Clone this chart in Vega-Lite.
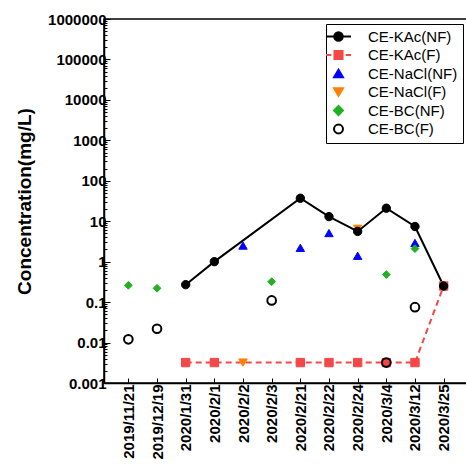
{
  "$schema": "https://vega.github.io/schema/vega-lite/v6.json",
  "width": 364,
  "height": 364,
  "autosize": "none",
  "padding": {"left": 104, "top": 19, "right": 0, "bottom": 91},
  "config": {
    "font": "Liberation Sans",
    "view": {"stroke": "black", "strokeWidth": 1.5},
    "legend": {
      "title": null,
      "orient": "top-right",
      "offset": 5,
      "padding": 5,
      "strokeColor": "black",
      "fillColor": "white",
      "labelFontSize": 15,
      "labelColor": "black",
      "labelFont": "Liberation Sans",
      "symbolSize": 80,
      "symbolStrokeWidth": 2,
      "labelOffset": 22,
      "rowPadding": 1.5
    }
  },
  "data": {
    "values": [
      {"d": "2020/1/31", "s": "CE-KAc(F)", "v": 0.0032},
      {"d": "2020/2/1", "s": "CE-KAc(F)", "v": 0.0032},
      {"d": "2020/2/21", "s": "CE-KAc(F)", "v": 0.0032},
      {"d": "2020/2/22", "s": "CE-KAc(F)", "v": 0.0032},
      {"d": "2020/2/24", "s": "CE-KAc(F)", "v": 0.0032},
      {"d": "2020/3/4", "s": "CE-KAc(F)", "v": 0.0032},
      {"d": "2020/3/12", "s": "CE-KAc(F)", "v": 0.0032},
      {"d": "2020/3/25", "s": "CE-KAc(F)", "v": 0.25},
      {"d": "2020/2/2", "s": "CE-NaCl(NF)", "v": 2.5},
      {"d": "2020/2/21", "s": "CE-NaCl(NF)", "v": 2.2},
      {"d": "2020/2/22", "s": "CE-NaCl(NF)", "v": 5.1},
      {"d": "2020/2/24", "s": "CE-NaCl(NF)", "v": 1.4},
      {"d": "2020/3/12", "s": "CE-NaCl(NF)", "v": 2.9},
      {"d": "2020/2/2", "s": "CE-NaCl(F)", "v": 0.0032},
      {"d": "2020/2/24", "s": "CE-NaCl(F)", "v": 6.5},
      {"d": "2020/3/12", "s": "CE-BC(NF)", "v": 2.1},
      {"d": "2019/11/21", "s": "CE-BC(NF)", "v": 0.26},
      {"d": "2019/12/19", "s": "CE-BC(NF)", "v": 0.22},
      {"d": "2020/2/3", "s": "CE-BC(NF)", "v": 0.32},
      {"d": "2020/3/4", "s": "CE-BC(NF)", "v": 0.48},
      {"d": "2019/11/21", "s": "CE-BC(F)", "v": 0.012},
      {"d": "2019/12/19", "s": "CE-BC(F)", "v": 0.022},
      {"d": "2020/2/3", "s": "CE-BC(F)", "v": 0.11},
      {"d": "2020/3/4", "s": "CE-BC(F)", "v": 0.0032},
      {"d": "2020/3/12", "s": "CE-BC(F)", "v": 0.075},
      {"d": "2020/1/31", "s": "CE-KAc(NF)", "v": 0.27},
      {"d": "2020/2/1", "s": "CE-KAc(NF)", "v": 1.0},
      {"d": "2020/2/21", "s": "CE-KAc(NF)", "v": 37},
      {"d": "2020/2/22", "s": "CE-KAc(NF)", "v": 13},
      {"d": "2020/2/24", "s": "CE-KAc(NF)", "v": 5.6},
      {"d": "2020/3/4", "s": "CE-KAc(NF)", "v": 21},
      {"d": "2020/3/12", "s": "CE-KAc(NF)", "v": 7.4},
      {"d": "2020/3/25", "s": "CE-KAc(NF)", "v": 0.25}
    ]
  },
  "encoding": {
    "x": {
      "field": "d",
      "type": "ordinal",
      "sort": null,
      "scale": {
        "type": "point",
        "padding": 0.85,
        "domain": ["2019/11/21", "2019/12/19", "2020/1/31", "2020/2/1", "2020/2/2", "2020/2/3", "2020/2/21", "2020/2/22", "2020/2/24", "2020/3/4", "2020/3/12", "2020/3/25"]
      },
      "axis": {
        "title": null,
        "labelAngle": -90,
        "labelFontSize": 15,
        "labelFontWeight": "bold",
        "labelColor": "black",
        "tickSize": -5,
        "tickColor": "black",
        "tickWidth": 1,
        "domainColor": "black",
        "domainWidth": 1.5,
        "labelPadding": 6,
        "grid": false
      }
    },
    "y": {
      "field": "v",
      "type": "quantitative",
      "scale": {"type": "log", "domain": [0.001, 1000000], "nice": false},
      "axis": {
        "title": "Concentration(mg/L)",
        "titleFontSize": 19,
        "titleFontWeight": "bold",
        "titleColor": "black",
        "titlePadding": 13,
        "values": [0.001,0.002,0.003,0.004,0.005,0.006,0.007,0.008,0.009,0.01,0.02,0.03,0.04,0.05,0.06,0.07,0.08,0.09,0.1,0.2,0.3,0.4,0.5,0.6,0.7,0.8,0.9,1,2,3,4,5,6,7,8,9,10,20,30,40,50,60,70,80,90,100,200,300,400,500,600,700,800,900,1000,2000,3000,4000,5000,6000,7000,8000,9000,10000,20000,30000,40000,50000,60000,70000,80000,90000,100000,200000,300000,400000,500000,600000,700000,800000,900000,1000000],
        "format": "~f",
        "labelExpr": "abs(log(datum.value)/LN10 - round(log(datum.value)/LN10)) < 0.000001 ? datum.label : ''",
        "labelOverlap": false,
        "labelFontSize": 15,
        "labelFontWeight": "bold",
        "labelColor": "black",
        "labelPadding": 4,
        "tickSize": {"condition": {"test": "abs(log(datum.value)/LN10 - round(log(datum.value)/LN10)) < 0.000001", "value": -6}, "value": -3},
        "tickColor": "black",
        "domainColor": "black",
        "domainWidth": 1.5,
        "grid": false
      }
    }
  },
  "layer": [
    {
      "transform": [{"filter": "datum.s === 'CE-KAc(NF)'"}],
      "mark": {"type": "line", "color": "black", "strokeWidth": 2}
    },
    {
      "transform": [{"filter": "datum.s === 'CE-KAc(F)'"}],
      "mark": {"type": "line", "color": "#f44848", "strokeWidth": 2, "strokeDash": [6, 4]}
    },
    {
      "transform": [{"filter": "datum.s === 'CE-KAc(F)'"}],
      "mark": {"type": "point", "shape": "square", "filled": true, "fill": "#f44848", "stroke": "#f44848", "strokeWidth": 1, "opacity": 1, "size": 70}
    },
    {
      "transform": [{"filter": "datum.s === 'CE-NaCl(F)'"}],
      "mark": {"type": "point", "shape": "triangle-down", "filled": true, "fill": "#ff8000", "stroke": "#ff8000", "strokeWidth": 1, "opacity": 1, "size": 70}
    },
    {
      "transform": [{"filter": "datum.s === 'CE-NaCl(NF)'"}],
      "mark": {"type": "point", "shape": "triangle-up", "filled": true, "fill": "#0000ff", "stroke": "#0000ff", "strokeWidth": 1, "opacity": 1, "size": 70}
    },
    {
      "transform": [{"filter": "datum.s === 'CE-BC(NF)'"}],
      "mark": {"type": "point", "shape": "diamond", "filled": true, "fill": "#22b022", "stroke": "#22b022", "strokeWidth": 1, "opacity": 1, "size": 60}
    },
    {
      "transform": [{"filter": "datum.s === 'CE-BC(F)'"}],
      "mark": {"type": "point", "shape": "circle", "filled": false, "stroke": "black", "strokeWidth": 2, "opacity": 1, "size": 75}
    },
    {
      "transform": [{"filter": "datum.s === 'CE-KAc(NF)'"}],
      "mark": {"type": "point", "shape": "circle", "filled": true, "fill": "black", "stroke": "black", "strokeWidth": 1, "opacity": 1, "size": 70}
    },
    {
      "transform": [{"filter": "false"}],
      "mark": {"type": "point", "filled": true, "opacity": 1, "strokeWidth": 2},
      "encoding": {
        "fill": {
          "field": "s",
          "type": "nominal",
          "scale": {
            "domain": ["CE-KAc(NF)", "CE-KAc(F)", "CE-NaCl(NF)", "CE-NaCl(F)", "CE-BC(NF)", "CE-BC(F)"],
            "range": ["black", "#f44848", "#0000ff", "#ff8000", "#22b022", "transparent"]
          }
        },
        "stroke": {
          "field": "s",
          "type": "nominal",
          "scale": {
            "domain": ["CE-KAc(NF)", "CE-KAc(F)", "CE-NaCl(NF)", "CE-NaCl(F)", "CE-BC(NF)", "CE-BC(F)"],
            "range": ["black", "#f44848", "#0000ff", "#ff8000", "#22b022", "black"]
          }
        },
        "shape": {
          "field": "s",
          "type": "nominal",
          "scale": {
            "domain": ["CE-KAc(NF)", "CE-KAc(F)", "CE-NaCl(NF)", "CE-NaCl(F)", "CE-BC(NF)", "CE-BC(F)"],
            "range": ["M-2.8,0H2.8M-0.95,0A0.95,0.95,0,1,1,0.95,0A0.95,0.95,0,1,1,-0.95,0Z", "M-2.8,0H-1.6M1.6,0H2.8M-0.9,-0.9H0.9V0.9H-0.9Z", "triangle-up", "triangle-down", "diamond", "circle"]
          }
        }
      }
    }
  ]
}
